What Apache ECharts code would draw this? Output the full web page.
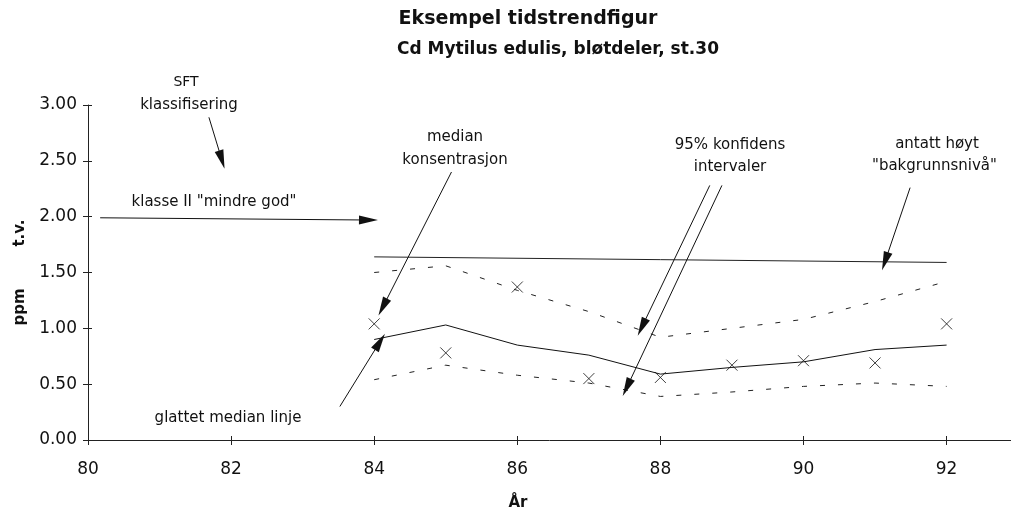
<!DOCTYPE html>
<html>
<head>
<meta charset="utf-8">
<script src="https://cdn.jsdelivr.net/npm/echarts@6/dist/echarts.min.js"></script>
<style>
html,body{margin:0;padding:0;background:#fff;}
#chart{width:1011px;height:514px;}
</style>
</head>
<body>
<div id="chart"></div>
<script>
// ---- data ----
var years = [84, 85, 86, 87, 88, 89, 90, 91, 92];
var observedMedian = [1.04, 0.78, 1.37, 0.55, 0.56, 0.67, 0.71, 0.69, 1.04];
var smoothedMedian = [0.90, 1.03, 0.85, 0.76, 0.59, 0.65, 0.70, 0.81, 0.85];
var upperConf = [1.50, 1.56, 1.34, 1.15, 0.92, 1.00, 1.08, 1.24, 1.42];
var lowerConf = [0.54, 0.67, 0.58, 0.51, 0.39, 0.43, 0.48, 0.51, 0.48];
var backgroundYears = [84, 92];
var backgroundLevel = [1.64, 1.59];
var xTickValues = [80, 82, 84, 86, 88, 90, 92];
// annotation arrows: [fromYear, fromValue, toYear, toValue]
var arrowSFT = [81.69, 2.89, 81.87, 2.51];
var arrowKlasse = [80.17, 1.99, 83.92, 1.97];
var arrowMedian = [85.08, 2.40, 84.12, 1.19];
var arrowGlattet = [83.52, 0.30, 84.08, 0.88];
var arrowConfUpper = [88.69, 2.28, 87.74, 1.01];
var arrowConfLower = [88.86, 2.28, 87.53, 0.47];
var arrowBakgrunn = [91.49, 2.26, 91.14, 1.60];
var arrows = [arrowSFT, arrowKlasse, arrowMedian, arrowGlattet, arrowConfUpper, arrowConfLower, arrowBakgrunn];

function pairs(xs, ys) { return xs.map(function (x, i) { return [x, ys[i]]; }); }

var FONT = 'DejaVu Sans';
var chart = echarts.init(document.getElementById('chart'), null, {renderer: 'canvas'});

function txt(x, y, text, opts) {
  opts = opts || {};
  return {
    type: 'text', x: x, y: y, silent: true,
    style: {
      text: text, fill: '#111', fontFamily: FONT,
      fontSize: opts.size || 15, fontWeight: opts.weight || 'normal',
      textAlign: opts.align || 'center', textVerticalAlign: 'middle'
    }
  };
}

var option = {
  animation: false,
  backgroundColor: '#fff',
  title: [
    {text: 'Eksempel tidstrendfigur', left: 523, top: 5, textAlign: 'center',
     textStyle: {fontFamily: FONT, fontSize: 19, fontWeight: 'bold', color: '#111'}},
    {text: 'Cd Mytilus edulis, bløtdeler, st.30', left: 553, top: 36, textAlign: 'center',
     textStyle: {fontFamily: FONT, fontSize: 17, fontWeight: 'bold', color: '#111'}}
  ],
  grid: {left: 88, right: 0, top: 105, bottom: 74, containLabel: false},
  xAxis: [
    {type: 'value', min: 80, max: 92.9, position: 'bottom',
     axisLine: {show: true, lineStyle: {color: '#222', width: 1}},
     axisTick: {show: true, customValues: xTickValues, length: 5, lineStyle: {color: '#222'}},
     axisLabel: {customValues: xTickValues, margin: 21, fontFamily: FONT, fontSize: 17, color: '#111'},
     splitLine: {show: false}},
    {type: 'value', min: 80, max: 92.9, position: 'bottom', gridIndex: 0,
     axisLine: {show: false},
     axisTick: {show: true, inside: true, customValues: xTickValues, length: 4, lineStyle: {color: '#222'}},
     axisLabel: {show: false}, splitLine: {show: false}}
  ],
  yAxis: [
    {type: 'value', min: 0, max: 3, interval: 0.5, position: 'left',
     name: 'ppm        t.v.', nameLocation: 'middle', nameRotate: 90, nameGap: 60,
     nameTextStyle: {fontFamily: FONT, fontSize: 15, fontWeight: 'bold', color: '#111'},
     axisLine: {show: true, lineStyle: {color: '#222', width: 1}},
     axisTick: {show: true, length: 5, lineStyle: {color: '#222'}},
     axisLabel: {margin: 11, fontFamily: FONT, fontSize: 17, color: '#111',
                 formatter: function (v) { return v.toFixed(2); }},
     splitLine: {show: false}},
    {type: 'value', min: 0, max: 3, interval: 0.5, position: 'left',
     axisLine: {show: false},
     axisTick: {show: true, inside: true, length: 4, lineStyle: {color: '#222'}},
     axisLabel: {show: false}, splitLine: {show: false}}
  ],
  series: [
    {name: 'bakgrunnsnivå', type: 'line', data: pairs(backgroundYears, backgroundLevel),
     showSymbol: false, lineStyle: {color: '#222', width: 1},
     markLine: {
       silent: true, symbol: ['none', 'triangle'], symbolSize: [9, 19],
       lineStyle: {color: '#111', width: 1, type: 'solid'},
       label: {show: false},
       data: arrows.map(function (a) { return [{coord: [a[0], a[1]]}, {coord: [a[2], a[3]]}]; })
     }},
    {name: 'øvre konfidens', type: 'line', data: pairs(years, upperConf), showSymbol: false,
     lineStyle: {color: '#222', width: 1, type: [5, 13]}},
    {name: 'nedre konfidens', type: 'line', data: pairs(years, lowerConf), showSymbol: false,
     lineStyle: {color: '#222', width: 1, type: [5, 13]}},
    {name: 'glattet median', type: 'line', data: pairs(years, smoothedMedian), showSymbol: false,
     lineStyle: {color: '#111', width: 1}},
    {name: 'median', type: 'scatter', data: pairs(years, observedMedian),
     symbol: 'path://M0,0L10,10M10,0L0,10', symbolSize: 11,
     itemStyle: {color: 'rgba(0,0,0,0)', borderColor: '#111', borderWidth: 1}}
  ],
  graphic: [
    txt(186, 82, 'SFT', {size: 14}),
    txt(189, 105, 'klassifisering'),
    txt(214, 202, 'klasse II "mindre god"'),
    txt(455, 137, 'median'),
    txt(455, 160, 'konsentrasjon'),
    txt(730, 145, '95% konfidens'),
    txt(730, 167, 'intervaler'),
    txt(937, 144, 'antatt høyt'),
    txt(872, 166, '"bakgrunnsnivå"', {align: 'left'}),
    txt(228, 418, 'glattet median linje'),
    txt(518, 503, 'År', {weight: 'bold', size: 15})
  ]
};
chart.setOption(option);
</script>
</body>
</html>
